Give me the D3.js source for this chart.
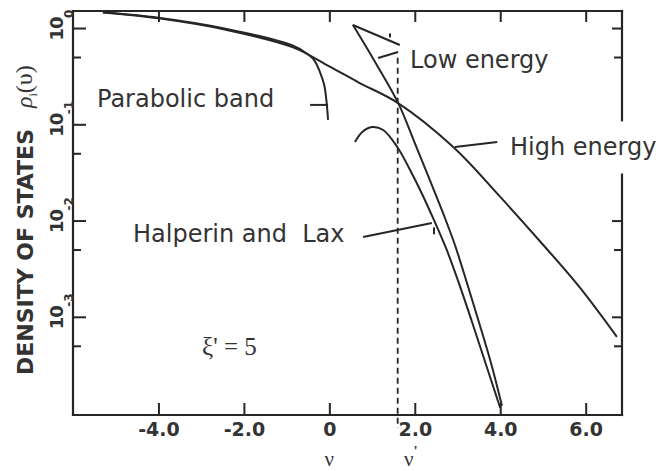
<!DOCTYPE html>
<html>
<head>
<meta charset="utf-8">
<script src="https://cdn.jsdelivr.net/npm/d3@7"></script>
<style>
  html, body { margin: 0; padding: 0; background: #fff; }
  svg { display: block; }
</style>
</head>
<body>
<svg id="chart" width="660" height="471"></svg>
<script>
// Density of states rho_i(nu) against reduced energy nu, xi' = 5

// Parabolic band
const parabolicNu  = [-5.3, -4.0, -2.4, -0.85, -0.57, -0.36, -0.22, -0.12, -0.07, -0.03];
const parabolicRho = [1.46, 1.28, 0.98, 0.655, 0.56, 0.466, 0.349, 0.256, 0.179, 0.111];

// High energy approximation
const highNu  = [-5.3, -4.0, -2.4, -0.85, 0.0, 0.7, 1.6, 2.9, 4.0, 4.93, 5.87, 6.73];
const highRho = [1.45, 1.26, 0.955, 0.63, 0.40, 0.27, 0.167, 0.058, 0.0176, 0.0061, 0.0020, 0.00062];

// Low energy approximation
const lowNu  = [0.55, 1.07, 1.61, 2.01, 2.36, 2.66, 2.94, 3.22, 3.50, 3.79, 4.04];
const lowRho = [1.08, 0.444, 0.167, 0.0624, 0.0258, 0.0120, 0.00557, 0.00225, 0.000884, 0.000324, 0.000119];

// Halperin and Lax
const hlNu  = [0.60, 0.77, 1.00, 1.26, 1.59, 1.89, 2.17, 2.45, 2.73, 3.04, 3.34, 3.67, 4.00];
const hlRho = [0.0655, 0.0832, 0.0937, 0.0873, 0.0581, 0.0335, 0.0189, 0.0101, 0.00519, 0.00219, 0.000884, 0.000316, 0.000113];

// Axes
const xTicks = [-4, -2, 0, 2, 4, 6];
const xTickLabels = ["-4.0", "-2.0", "0", "2.0", "4.0", "6.0"];
const yMajorTicks = [1, 1e-1, 1e-2, 1e-3];
const yExponents = ["0", "-1", "-2", "-3"];
const yMinorTicks = [0.5, 0.05, 0.005, 0.0005];
const nuPrime = 1.6;

const svg = d3.select("#chart");
const ink = "#262626";
const textInk = "#333";

const x = d3.scaleLinear().domain([-6, 6.85]).range([73, 622]);
const y = d3.scaleLog().domain([Math.pow(10, -4.02), Math.pow(10, 0.177)]).range([415, 11]);
const [x0, x1] = x.range();
const [yb, yt] = y.range();

// Inward-pointing ticks on all four sides
function tickGroup(axis, tx, ty) {
  const g = svg.append("g").attr("transform", `translate(${tx},${ty})`).call(axis);
  g.select(".domain").remove();
  g.selectAll(".tick line").attr("stroke", ink).attr("stroke-width", 2);
  return g;
}

const bottom = tickGroup(
  d3.axisBottom(x).tickValues(xTicks).tickSize(-12).tickPadding(8)
    .tickFormat((d, i) => xTickLabels[i]), 0, yb);
bottom.selectAll(".tick text")
  .attr("fill", textInk).attr("font-family", "DejaVu Sans").attr("font-weight", "bold")
  .attr("font-size", 19);

tickGroup(d3.axisTop(x).tickValues(xTicks).tickSize(-11).tickFormat(""), 0, yt);
tickGroup(d3.axisLeft(y).tickValues(yMajorTicks).tickSize(-13).tickFormat(""), x0, 0);
tickGroup(d3.axisLeft(y).tickValues(yMinorTicks).tickSize(-8).tickFormat(""), x0, 0);

// Right edge is broken where the "High energy" label sits
const rightGap = [0.11, 0.03];
const outsideGap = v => v > rightGap[0] || v < rightGap[1];
tickGroup(d3.axisRight(y).tickValues(yMajorTicks.filter(outsideGap)).tickSize(-10).tickFormat(""), x1, 0);
tickGroup(d3.axisRight(y).tickValues(yMinorTicks.filter(outsideGap)).tickSize(-8).tickFormat(""), x1, 0);

// Frame
const frame = svg.append("g").attr("stroke", ink).attr("stroke-width", 2.2).attr("fill", "none")
  .attr("stroke-linecap", "square");
frame.append("line").attr("x1", x0).attr("x2", x0).attr("y1", yt).attr("y2", yb);
frame.append("line").attr("x1", x0).attr("x2", x1).attr("y1", yb).attr("y2", yb);
frame.append("line").attr("x1", x0).attr("x2", x1).attr("y1", yt).attr("y2", yt);
frame.append("line").attr("x1", x1).attr("x2", x1).attr("y1", yt).attr("y2", y(rightGap[0]));
frame.append("line").attr("x1", x1).attr("x2", x1).attr("y1", y(rightGap[1])).attr("y2", yb);

// Y tick labels: rotated powers of ten
yMajorTicks.forEach((v, i) => {
  const ty = y(v);
  svg.append("text")
    .attr("transform", `translate(63,${ty + 1}) rotate(-90)`)
    .attr("text-anchor", "middle")
    .attr("font-family", "DejaVu Sans").attr("font-weight", "bold").attr("font-size", 18)
    .attr("letter-spacing", -1).attr("fill", textInk)
    .text("10");
  svg.append("text")
    .attr("transform", `translate(73,${ty - 10}) rotate(-90)`)
    .attr("text-anchor", "start")
    .attr("font-family", "DejaVu Sans").attr("font-weight", "bold").attr("font-size", 12)
    .attr("fill", textInk)
    .text(yExponents[i]);
});

// Y axis title
svg.append("text")
  .attr("transform", "translate(33,129) rotate(-90)")
  .attr("text-anchor", "end")
  .attr("font-family", "DejaVu Sans").attr("font-weight", "bold").attr("font-size", 22)
  .attr("fill", textInk)
  .text("DENSITY OF STATES");
const rhoLabel = svg.append("text")
  .attr("transform", "translate(32,108) rotate(-90)")
  .attr("text-anchor", "start")
  .attr("font-family", "Liberation Serif").attr("font-size", 24).attr("fill", textInk);
rhoLabel.append("tspan").attr("font-style", "italic").text("ρ");
rhoLabel.append("tspan").attr("font-size", 12).attr("dy", 5).text("i");
rhoLabel.append("tspan").attr("dy", -5).text("(υ)");

// X axis symbols
svg.append("text").attr("x", x(0)).attr("y", 466).attr("text-anchor", "middle")
  .attr("font-family", "Liberation Serif").attr("font-size", 21).attr("fill", textInk).text("ν");
const nuP = svg.append("text").attr("x", x(2) - 4).attr("y", 466).attr("text-anchor", "middle")
  .attr("font-family", "Liberation Serif").attr("font-size", 21).attr("fill", textInk);
nuP.append("tspan").text("ν");
nuP.append("tspan").attr("font-size", 15).attr("dy", -10).attr("font-weight", "bold").text("'");

// Curves
svg.append("clipPath").attr("id", "plot-clip").append("rect")
  .attr("x", x0).attr("y", yt).attr("width", x1 - x0).attr("height", yb - yt);
const curves = svg.append("g").attr("clip-path", "url(#plot-clip)")
  .attr("fill", "none").attr("stroke", ink).attr("stroke-width", 2).attr("stroke-linejoin", "round");
const line = d3.line().x(d => x(d[0])).y(d => y(d[1])).curve(d3.curveCatmullRom.alpha(0.5));
const series = [
  d3.zip(parabolicNu, parabolicRho),
  d3.zip(highNu, highRho),
  d3.zip(lowNu, lowRho),
  d3.zip(hlNu, hlRho)
];
series.forEach(s => curves.append("path").attr("d", line(s)));

// Dashed marker at nu'
svg.append("line")
  .attr("x1", x(nuPrime)).attr("x2", x(nuPrime))
  .attr("y1", y(0.49)).attr("y2", yb + 13)
  .attr("stroke", ink).attr("stroke-width", 1.8).attr("stroke-dasharray", "6,4");

// Leader lines for the curve labels
const leaders = [
  [[-0.45, 0.159], [-0.03, 0.159]],
  [[0.55, 1.075], [1.65, 0.667]],
  [[1.14, 0.489], [1.61, 0.564]],
  [[1.42, 0.88], [1.42, 0.80]],
  [[2.94, 0.058], [3.93, 0.0655]],
  [[0.79, 0.00675], [2.40, 0.00944]],
  [[2.45, 0.0085], [2.45, 0.0072]]
];
const straight = d3.line().x(d => x(d[0])).y(d => y(d[1]));
leaders.forEach(l => svg.append("path").attr("d", straight(l))
  .attr("stroke", ink).attr("stroke-width", 2).attr("fill", "none"));

// Curve labels
const labelFont = sel => sel.attr("font-family", "DejaVu Sans").attr("font-size", 24).attr("fill", textInk);
svg.append("text").attr("x", 97).attr("y", 107).call(labelFont).text("Parabolic band");
svg.append("text").attr("x", 410).attr("y", 68).call(labelFont).text("Low energy");
svg.append("text").attr("x", 510).attr("y", 155).call(labelFont).text("High energy");
svg.append("text").attr("x", 133).attr("y", 242).call(labelFont).attr("xml:space", "preserve")
  .text("Halperin and  Lax");

// Parameter
svg.append("text").attr("x", 202).attr("y", 355)
  .attr("font-family", "Liberation Serif").attr("font-size", 25).attr("fill", textInk)
  .attr("xml:space", "preserve")
  .text("ξ' = 5");
</script>
</body>
</html>
